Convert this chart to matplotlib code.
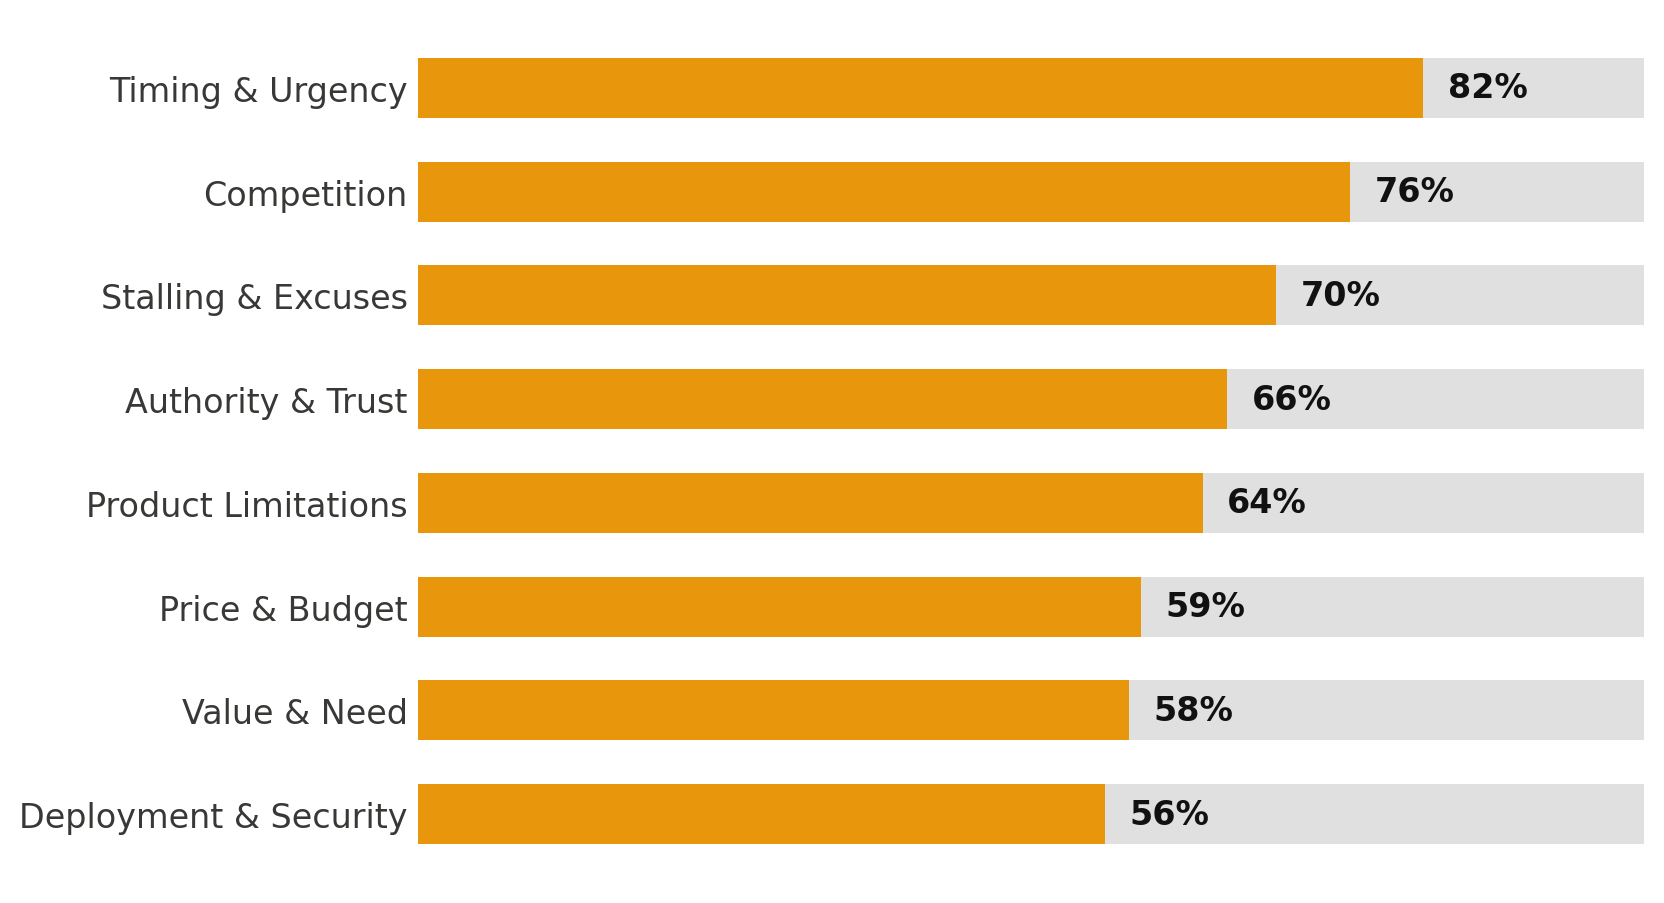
import matplotlib
matplotlib.use("Agg")
import matplotlib.pyplot as plt

# Data (top to bottom)
categories = ["Timing & Urgency", "Competition", "Stalling & Excuses", "Authority & Trust",
              "Product Limitations", "Price & Budget", "Value & Need", "Deployment & Security"]
values = [82, 76, 70, 66, 64, 59, 58, 56]
max_value = 100

orange = "#E8960B"
track = "#E0E0E0"

fig = plt.figure(figsize=(16.64, 9.04), dpi=100)
ax = fig.add_axes([0.2512, 0.041, 0.7368, 0.918])

y = list(range(len(categories)))
ax.barh(y, [max_value] * len(values), height=0.58, color=track, zorder=1)
ax.barh(y, values, height=0.58, color=orange, zorder=2)

for yi, v in zip(y, values):
    ax.text(v + 2, yi, f"{v}%", va="center", ha="left", fontsize=24,
            fontweight="bold", color="#111111", zorder=3)

ax.set_xlim(0, max_value)
ax.set_ylim(len(categories) - 0.5, -0.5)
ax.set_yticks(y)
ax.set_yticklabels(categories, fontsize=24, color="#383836")
ax.tick_params(axis="y", length=0, pad=7.5)
ax.set_xticks([])
for s in ax.spines.values():
    s.set_visible(False)

fig.savefig("out.png", dpi=100)
